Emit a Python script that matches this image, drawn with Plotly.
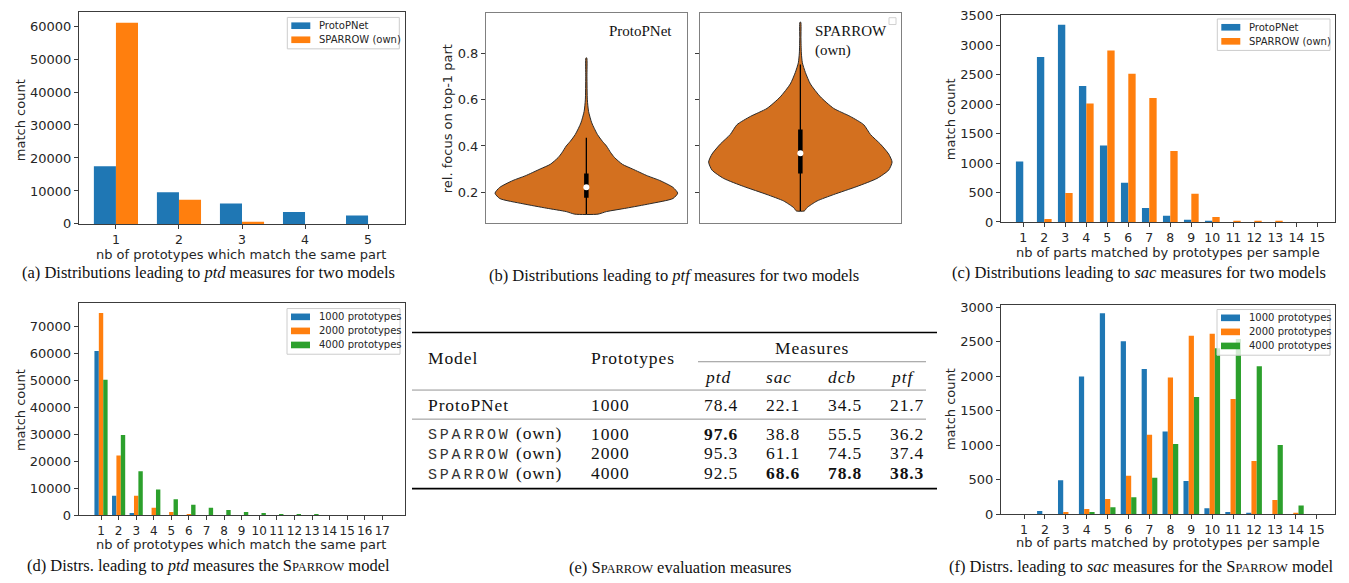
import plotly.graph_objects as go

W, H = 1349, 583


def X(p):
    return p / W


def Y(p):
    return 1 - p / H


# ---------------- data ----------------
# (a) ptd distributions, two models
ptd_cats = ["1", "2", "3", "4", "5"]
ptd_protopnet = [17500, 9600, 6200, 3650, 2580]
ptd_sparrow = [61000, 7350, 650, 0, 0]

# (b) violin outlines: value levels and half widths
vio_proto_levels = [0.104, 0.115, 0.130, 0.149, 0.172, 0.195, 0.220, 0.250, 0.270, 0.300,
                    0.320, 0.350, 0.370, 0.400, 0.420, 0.450, 0.500, 0.550, 0.600, 0.700, 0.782]
vio_proto_halfw = [0.058, 0.100, 0.199, 0.316, 0.432, 0.455, 0.432, 0.366, 0.305, 0.230,
                   0.180, 0.140, 0.122, 0.100, 0.080, 0.055, 0.027, 0.011, 0.005, 0.003, 0.002]
vio_proto_whisker = [0.104, 0.436]
vio_proto_box = [0.175, 0.280]
vio_proto_median = 0.221

vio_sparrow_levels = [0.118, 0.132, 0.161, 0.189, 0.224, 0.259, 0.295, 0.330, 0.365, 0.408,
                      0.450, 0.492, 0.528, 0.563, 0.613, 0.669, 0.719, 0.761, 0.803, 0.870, 0.937]
vio_sparrow_halfw = [0.020, 0.033, 0.083, 0.166, 0.282, 0.382, 0.440, 0.457, 0.440, 0.399,
                     0.349, 0.316, 0.249, 0.166, 0.100, 0.050, 0.025, 0.010, 0.005, 0.003, 0.002]
vio_sparrow_whisker = [0.118, 0.754]
vio_sparrow_box = [0.280, 0.471]
vio_sparrow_median = 0.368

# (c) sac distributions, two models
sac_cats = [str(i) for i in range(1, 16)]
sac_protopnet = [1027, 2800, 3346, 2308, 1297, 668, 237, 105, 39, 20, 0, 0, 0, 0, 0]
sac_sparrow = [0, 50, 491, 2010, 2910, 2518, 2104, 1204, 480, 83, 22, 22, 5, 0, 0]

# (d) ptd distributions, SPARROW with different prototype counts
ptd3_cats = [str(i) for i in range(1, 18)]
ptd_1000 = [60900, 7250, 850, 0, 0, 0, 0, 0, 0, 0, 0, 0, 0, 0, 0, 0, 0]
ptd_2000 = [75000, 22100, 7250, 2750, 1200, 480, 0, 0, 0, 0, 0, 0, 0, 0, 0, 0, 0]
ptd_4000 = [50300, 29800, 16300, 9500, 5900, 3850, 2750, 1900, 1200, 850, 480, 380, 360, 0, 0, 0, 0]

# (f) sac distributions, SPARROW with different prototype counts
sac_1000 = [0, 47, 494, 1996, 2914, 2510, 2105, 1200, 480, 85, 33, 19, 0, 0, 0]
sac_2000 = [0, 0, 33, 75, 221, 556, 1153, 1982, 2589, 2618, 1671, 772, 207, 19, 0]
sac_4000 = [0, 0, 0, 33, 99, 245, 527, 1017, 1700, 2406, 2542, 2147, 1003, 127, 0]

# (e) evaluation table
tbl_model = ["ProtoPNet", "SPARROW", "SPARROW", "SPARROW"]
tbl_protos = ["1000", "1000", "2000", "4000"]
tbl_ptd = ["78.4", "97.6", "95.3", "92.5"]
tbl_sac = ["22.1", "38.8", "61.1", "68.6"]
tbl_dcb = ["34.5", "55.5", "74.5", "78.8"]
tbl_ptf = ["21.7", "36.2", "37.4", "38.3"]
tbl_best = {"ptd": 1, "sac": 3, "dcb": 3, "ptf": 3}

legend_two = ["ProtoPNet", "SPARROW (own)"]
legend_three = ["1000 prototypes", "2000 prototypes", "4000 prototypes"]

# ---------------- styles ----------------
BLUE, ORANGE, GREEN = "#1f77b4", "#ff7f0e", "#2ca02c"
VIOLIN = "#d3701f"
SANS = "DejaVu Sans"
SERIF = "Liberation Serif"
MONO = "Liberation Mono"
TXT = "#262626"
INK = "#111111"

fig = go.Figure()


def bars(xa, ya, series, colors, width):
    n = len(series)
    xs = list(range(1, len(series[0]) + 1))
    for i, (vals, col) in enumerate(zip(series, colors)):
        fig.add_trace(go.Bar(
            x=xs, y=vals, width=width, offset=width * (i - n / 2),
            marker=dict(color=col, line=dict(width=0)),
            xaxis=xa, yaxis=ya, showlegend=False, hoverinfo="skip"))


def violin(xa, ya, levels, halfw, whisker, box, median):
    xs = list(halfw) + [-w for w in reversed(halfw)] + [halfw[0]]
    ys = list(levels) + list(reversed(levels)) + [levels[0]]
    fig.add_trace(go.Scatter(x=xs, y=ys, mode="lines", fill="toself", fillcolor=VIOLIN,
                             line=dict(color="#2a2a2a", width=1, shape="spline", smoothing=0.6),
                             xaxis=xa, yaxis=ya, showlegend=False, hoverinfo="skip"))
    fig.add_trace(go.Scatter(x=[0, 0], y=whisker, mode="lines", line=dict(color="black", width=1.3),
                             xaxis=xa, yaxis=ya, showlegend=False, hoverinfo="skip"))
    fig.add_trace(go.Scatter(x=[0, 0], y=box, mode="lines", line=dict(color="black", width=4.5),
                             xaxis=xa, yaxis=ya, showlegend=False, hoverinfo="skip"))
    fig.add_trace(go.Scatter(x=[0], y=[median], mode="markers",
                             marker=dict(color="white", size=6, line=dict(width=0)),
                             xaxis=xa, yaxis=ya, showlegend=False, hoverinfo="skip"))


def axis(px0, px1, rng, vertical=False, **kw):
    dom = [Y(px1), Y(px0)] if vertical else [X(px0), X(px1)]
    d = dict(domain=dom, range=rng, showline=True, mirror=True, linecolor="#3c3c3c", linewidth=1,
             ticks="outside", ticklen=4, tickwidth=1, tickcolor="#3c3c3c", showgrid=False,
             zeroline=False, tickfont=dict(family=SANS, size=13 if vertical else 12.5, color=TXT),
             fixedrange=True)
    if not vertical:
        d["tickangle"] = 0
    d.update(kw)
    return d


def text(x, y, s, size=13, family=SANS, anchor="center", angle=0, color=TXT, yanchor="middle"):
    fig.add_annotation(x=X(x), y=Y(y), xref="paper", yref="paper", text=s, showarrow=False,
                       xanchor=anchor, yanchor=yanchor, textangle=angle,
                       font=dict(family=family, size=size, color=color))


def legend_box(left, top, right, labels, colors):
    n = len(labels)
    bottom = top + 14.6 * n + 3
    fig.add_shape(type="rect", xref="paper", yref="paper", x0=X(left), x1=X(right),
                  y0=Y(bottom), y1=Y(top), line=dict(color="#cccccc", width=1),
                  fillcolor="rgba(255,255,255,0.8)", layer="above")
    for i, (lab, col) in enumerate(zip(labels, colors)):
        cy = top + 8.5 + 14.4 * i
        fig.add_shape(type="rect", xref="paper", yref="paper", x0=X(left + 4), x1=X(left + 23),
                      y0=Y(cy + 3.4), y1=Y(cy - 3.4), fillcolor=col, line=dict(width=0), layer="above")
        text(left + 30, cy, lab, size=10, anchor="left")


def hline(x0, x1, y, width=1, color="black"):
    fig.add_shape(type="line", xref="paper", yref="paper", x0=X(x0), x1=X(x1), y0=Y(y), y1=Y(y),
                  line=dict(color=color, width=width))


# ---------------- (a) ----------------
bars("x", "y", [ptd_protopnet, ptd_sparrow], [BLUE, ORANGE], 0.35)
# ---------------- (b) ----------------
violin("x2", "y2", vio_proto_levels, vio_proto_halfw, vio_proto_whisker, vio_proto_box, vio_proto_median)
violin("x3", "y3", vio_sparrow_levels, vio_sparrow_halfw, vio_sparrow_whisker, vio_sparrow_box,
       vio_sparrow_median)
# ---------------- (c) ----------------
bars("x4", "y4", [sac_protopnet, sac_sparrow], [BLUE, ORANGE], 0.35)
# ---------------- (d) ----------------
bars("x5", "y5", [ptd_1000, ptd_2000, ptd_4000], [BLUE, ORANGE, GREEN], 0.25)
# ---------------- (f) ----------------
bars("x6", "y6", [sac_1000, sac_2000, sac_4000], [BLUE, ORANGE, GREEN], 0.25)

count_fmt = dict(tickformat="d", tickmode="linear", tick0=0)

fig.update_layout(
    width=W, height=H, autosize=False, margin=dict(l=0, r=0, t=0, b=0),
    paper_bgcolor="white", plot_bgcolor="white", barmode="overlay", showlegend=False,
    xaxis=axis(79, 405, [0.414, 5.586], anchor="y", tickvals=list(range(1, 6)), ticktext=ptd_cats),
    yaxis=axis(6, 223.3, [0, 64300], vertical=True, anchor="x", dtick=10000, **count_fmt),
    xaxis2=axis(486, 686.7, [-0.5, 0.5], anchor="y2", showticklabels=False, ticks="",
                linecolor="#808080"),
    yaxis2=axis(6.7, 222.7, [0.064, 0.979], vertical=True, anchor="x2", tickmode="array",
                tickvals=[0.2, 0.4, 0.6, 0.8], ticktext=["0.2", "0.4", "0.6", "0.8"],
                linecolor="#808080"),
    xaxis3=axis(700, 900.7, [-0.5, 0.5], anchor="y3", showticklabels=False, ticks="",
                linecolor="#808080"),
    yaxis3=axis(6.7, 222.7, [0.064, 0.979], vertical=True, anchor="x3", tickmode="array",
                tickvals=[0.2, 0.4, 0.6, 0.8], showticklabels=False, linecolor="#808080"),
    xaxis4=axis(1001, 1335, [-0.06, 15.84], anchor="y4", tickvals=list(range(1, 16)), ticktext=sac_cats),
    yaxis4=axis(9, 221.3, [0, 3517], vertical=True, anchor="x4", dtick=500, **count_fmt),
    xaxis5=axis(78.7, 405, [-0.27, 18.29], anchor="y5", tickvals=list(range(1, 18)), ticktext=ptd3_cats,
                tickfont=dict(family=SANS, size=12, color=TXT)),
    yaxis5=axis(304.3, 521.7, [0, 78750], vertical=True, anchor="x5", dtick=10000, **count_fmt),
    xaxis6=axis(1001, 1335, [-0.1, 15.87], anchor="y6", tickvals=list(range(1, 16)), ticktext=sac_cats),
    yaxis6=axis(306, 520.7, [0, 3040], vertical=True, anchor="x6", dtick=500, **count_fmt),
)

# axis titles
text(20, 117, "match count", angle=-90)
text(241, 255, "nb of prototypes which match the same part")
text(447, 116, "rel. focus on top-1 part", angle=-90)
text(950, 116, "match count", angle=-90)
text(1168, 253, "nb of parts matched by prototypes per sample")
text(20, 414, "match count", angle=-90)
text(241, 552, "nb of prototypes which match the same part")
text(950, 413, "match count", angle=-90)
text(1168, 550, "nb of parts matched by prototypes per sample")

# legends
legend_box(287.3, 11.7, 399.3, legend_two, [BLUE, ORANGE])
legend_box(1217.3, 13.3, 1330, legend_two, [BLUE, ORANGE])
legend_box(287, 310, 400, legend_three, [BLUE, ORANGE, GREEN])
legend_box(1217, 311, 1330, legend_three, [BLUE, ORANGE, GREEN])

# violin panel labels and empty legend
text(640, 26, "ProtoPNet", size=15, family=SERIF, color=INK)
text(813, 26, "SPARROW", size=15, family=SERIF, color=INK, anchor="left")
text(813, 46, "(own)", size=15, family=SERIF, color=INK, anchor="left")
fig.add_shape(type="rect", xref="paper", yref="paper", x0=X(889), x1=X(896), y0=Y(19), y1=Y(12),
              line=dict(color="#d0d0d0", width=1), fillcolor="white")

# ---------------- (e) table ----------------
hline(412, 937, 334.5, width=1.6)
hline(698, 926, 364.5, width=0.9, color="#888")
hline(412, 926, 393.5, width=0.9, color="#888")
hline(412, 926, 423.3, width=0.9, color="#888")
hline(412, 937, 494.5, width=1.6)

TS = 17.5


def cell(x, y, s, anchor="left"):
    s = '<span style="letter-spacing:0.9px">%s</span>' % s
    text(x, y, s, size=TS, family=SERIF, color=INK, anchor=anchor)


cell(426, 360.5, "Model")
cell(589, 360.5, "Prototypes")
cell(812, 350, "Measures", anchor="center")
cols = [("ptd", 701.5, tbl_ptd), ("sac", 763.5, tbl_sac), ("dcb", 825.5, tbl_dcb), ("ptf", 887.5, tbl_ptf)]
for name, cx, _ in cols:
    cell(cx, 380.5, "<i>%s</i>" % name)
row_y = [409, 438.3, 458.3, 478.5]
for r, yy in enumerate(row_y):
    if tbl_model[r] == "SPARROW":
        label = ('<span style="font-family:%s;font-size:15px;letter-spacing:2.8px;fill:#333333">%s</span>'
                 '<span style="letter-spacing:0.9px"> (own)</span>' % (MONO, tbl_model[r]))
        text(426, yy, label, size=TS, family=SERIF, color=INK, anchor="left")
    else:
        cell(426, yy, tbl_model[r])
    cell(589, yy, tbl_protos[r])
    for name, cx, vals in cols:
        cell(cx, yy, "<b>%s</b>" % vals[r] if tbl_best[name] == r else vals[r])

# ---------------- captions ----------------
CS = 16.5
SC = '<span style="font-size:12.5px">PARROW</span>'
text(208, 273, "(a) Distributions leading to <i>ptd</i> measures for two models", size=CS, family=SERIF, color=INK)
text(674, 276, "(b) Distributions leading to <i>ptf</i> measures for two models", size=CS, family=SERIF, color=INK)
text(1139, 273, "(c) Distributions leading to <i>sac</i> measures for two models", size=CS, family=SERIF, color=INK)
text(208, 573, "(d) Distrs. leading to <i>ptd</i> measures the S" + SC + " model", size=CS, family=SERIF, color=INK)
text(680, 575, "(e) S" + SC + " evaluation measures", size=CS, family=SERIF, color=INK)
text(1141, 574, "(f) Distrs. leading to <i>sac</i> measures for the S" + SC + " model", size=CS, family=SERIF, color=INK)

fig.write_html("out.html", config={"displayModeBar": False})
